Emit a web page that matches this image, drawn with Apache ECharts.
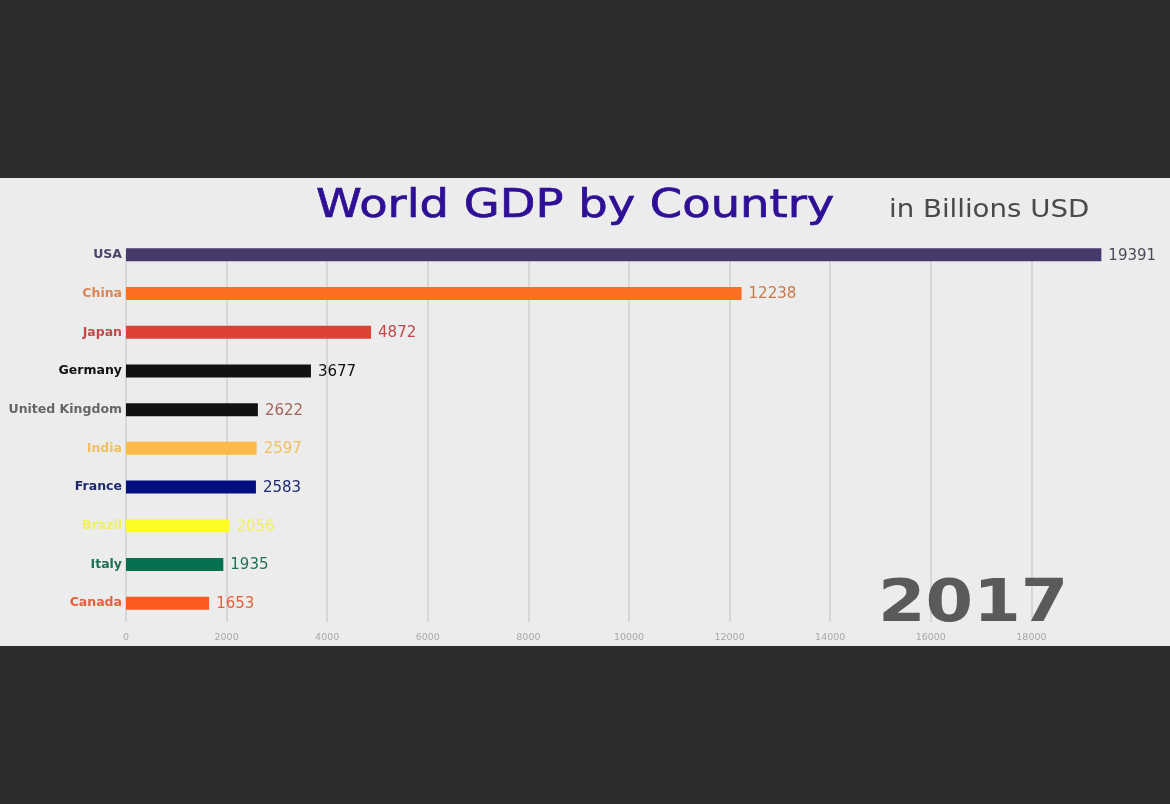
<!DOCTYPE html>
<html lang="en">
<head>
    <meta charset="UTF-8">
    <title>World GDP by Country</title>
    <style>
        html, body { margin: 0; height: 100%; background: #2e2d2d; overflow: hidden; }
        #main { position: absolute; left: 0; top: 178px; width: 1170px; height: 468px; }
    </style>
</head>
<body>
<div id="main"></div>
<script src="https://cdn.jsdelivr.net/npm/echarts@6/dist/echarts.min.js"></script>
<script>
    const countries = ['USA', 'China', 'Japan', 'Germany', 'United Kingdom', 'India', 'France', 'Brazil', 'Italy', 'Canada'];
    const gdp = [19391, 12238, 4872, 3677, 2622, 2597, 2583, 2056, 1935, 1653];
    const barColors = ['#453a6b', '#fc6e22', '#dc4237', '#111111', '#111111', '#fdb94a', '#000f80', '#fdfd24', '#04704f', '#fc5a1e'];
    const nameColors = ['#4a4368', '#d98556', '#c04a4a', '#111111', '#666666', '#f0c060', '#1e2a70', '#f0f060', '#1f7058', '#e2603c'];
    const valueColors = ['#4a4a5a', '#c9794a', '#c04a4a', '#111111', '#a0655a', '#f0c060', '#1e2a70', '#f0f060', '#1f7058', '#e2603c'];
    const year = '2017';

    const font = '"DejaVu Sans", sans-serif';
    let myChart = echarts.init(document.getElementById('main'));

    let barData = [];
    for (let i = 0; i < gdp.length; i++) {
        barData.push({
            value: gdp[i],
            itemStyle: { color: barColors[i] },
            label: { color: valueColors[i] }
        });
    }

    let option = {
        backgroundColor: '#ececec',
        animation: false,
        // grid 0 holds the bars, grid 1 the value axis whose lines start below the first bar
        grid: [
            { left: 126, width: 1006, top: 57.5, height: 387 },
            { left: 126, width: 1006, top: 76, height: 368 }
        ],
        xAxis: [
            { type: 'value', gridIndex: 0, min: 0, max: 20000, show: false },
            {
                type: 'value',
                gridIndex: 1,
                min: 0,
                max: 20000,
                interval: 2000,
                axisLine: { show: false },
                axisTick: { show: false },
                axisLabel: {
                    color: '#a8a8a8',
                    fontFamily: font,
                    fontSize: 9.5,
                    margin: 11,
                    showMaxLabel: false,
                    formatter: function (value) {
                        return String(value);
                    }
                },
                splitLine: { show: true, showMaxLine: false, lineStyle: { color: '#d0d0d0', width: 1.5 } }
            }
        ],
        yAxis: [
            {
                type: 'category',
                gridIndex: 0,
                inverse: true,
                data: countries,
                axisLine: { show: false },
                axisTick: { show: false },
                axisLabel: {
                    margin: 4,
                    fontFamily: font,
                    fontWeight: 'bold',
                    fontSize: 12.5,
                    color: function (value, index) {
                        return nameColors[index];
                    }
                }
            },
            { type: 'value', gridIndex: 1, min: 0, max: 1, show: false }
        ],
        series: [
            {
                type: 'bar',
                xAxisIndex: 0,
                yAxisIndex: 0,
                barWidth: 13,
                data: barData,
                label: {
                    show: true,
                    position: 'right',
                    distance: 7,
                    offset: [0, 1],
                    fontFamily: font,
                    fontSize: 15
                }
            }
        ],
        // the reference lettering is wider than any installed face, hence scaleX
        graphic: [
            {
                type: 'text',
                x: 316,
                y: 9,
                scaleX: 1.19,
                z: 10,
                style: { text: 'World GDP by Country', fill: '#2e0f96', stroke: '#2e0f96', lineWidth: 0.7, font: '39px "DejaVu Sans", sans-serif' }
            },
            {
                type: 'text',
                x: 889,
                y: 20,
                scaleX: 1.105,
                z: 10,
                style: { text: 'in Billions USD', fill: '#4a4a4a', font: '25px "DejaVu Sans", sans-serif' }
            },
            {
                type: 'text',
                x: 878,
                y: 399,
                scaleX: 1.18,
                z: 10,
                style: { text: year, fill: '#5a5a5a', font: 'bold 58px "DejaVu Sans", sans-serif' }
            }
        ]
    };
    myChart.setOption(option);
</script>
</body>
</html>
